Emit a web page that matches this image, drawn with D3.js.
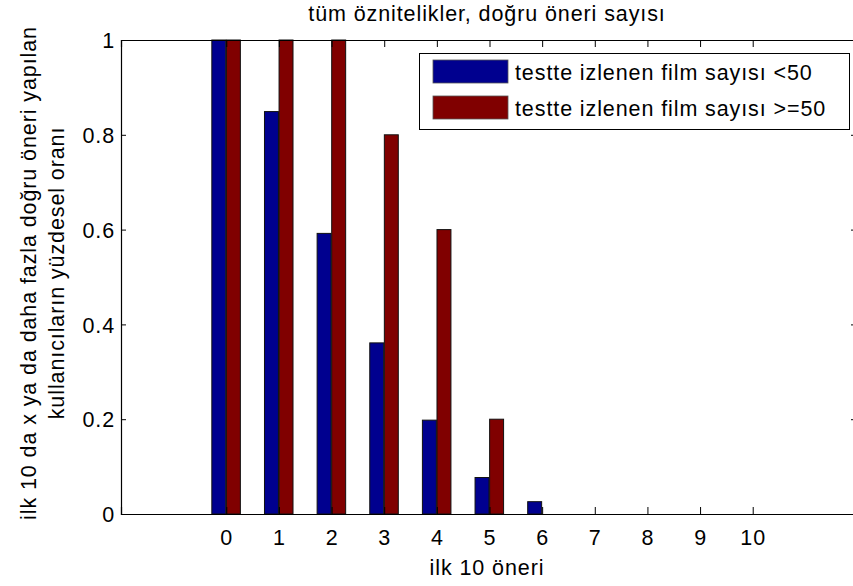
<!DOCTYPE html>
<html>
<head>
<meta charset="utf-8">
<script src="https://cdn.jsdelivr.net/npm/d3@7"></script>
<style>
  body { margin: 0; background: #fff; }
  text { font-family: "Liberation Sans", Arial, sans-serif; font-size: 21.5px; letter-spacing: 0.9px; fill: #000; }
</style>
</head>
<body>
<div id="chart"></div>
<script>
// data
const categories = [0, 1, 2, 3, 4, 5, 6, 7, 8, 9, 10];
const seriesNames = ["testte izlenen film sayısı <50", "testte izlenen film sayısı >=50"];
const under50 = [1, 0.849, 0.592, 0.361, 0.198, 0.077, 0.026, 0, 0, 0, 0];
const over50 = [1, 1, 1, 0.8, 0.6, 0.2, 0, 0, 0, 0, 0];
const yTicks = [0, 0.2, 0.4, 0.6, 0.8, 1];
const titleText = "tüm öznitelikler, doğru öneri sayısı";
const xLabel = "ilk 10 öneri";
const yLabelLines = ["ilk 10 da x ya da daha fazla doğru öneri yapılan", "kullanıcıların yüzdesel oranı"];

const colors = ["#00008f", "#800000"];
const width = 853, height = 586;
const plot = {left: 121, right: 858, top: 40, bottom: 514};
const fontSize = "21.5px", spacing = "0.9px";

const svg = d3.select("#chart").append("svg")
  .attr("width", width)
  .attr("height", height);

const x = d3.scaleLinear().domain([-2, 12]).range([plot.left, plot.right]);
const y = d3.scaleLinear().domain([0, 1]).range([plot.bottom, plot.top]);

// bar geometry in data units
const barW = 0.265;
const offsets = [-0.142, 0.135];
const series = [under50, over50];

series.forEach((vals, si) => {
  svg.append("g").selectAll("rect")
    .data(categories)
    .enter()
    .append("rect")
    .attr("x", (d, i) => x(d + offsets[si] - barW / 2))
    .attr("width", x(barW) - x(0))
    .attr("y", (d, i) => y(vals[i]))
    .attr("height", (d, i) => y(0) - y(vals[i]))
    .attr("fill", colors[si])
    .attr("stroke", "#111")
    .attr("stroke-width", 1);
});

// axes box
const tickLen = 7;
const bottomAxis = d3.axisBottom(x).tickValues(categories).tickSize(-tickLen).tickPadding(tickLen + 9);
const gx = svg.append("g").attr("transform", `translate(0,${plot.bottom})`).call(bottomAxis);
const topAxis = d3.axisTop(x).tickValues(categories).tickSize(-tickLen).tickFormat("");
const gxt = svg.append("g").attr("transform", `translate(0,${plot.top})`).call(topAxis);
const leftAxis = d3.axisLeft(y).tickValues(yTicks).tickSize(-5).tickPadding(6).tickFormat(d3.format("~g"));
const gy = svg.append("g").attr("transform", `translate(${plot.left},0)`).call(leftAxis);
const rightAxis = d3.axisRight(y).tickValues(yTicks).tickSize(-tickLen).tickFormat("");
const gyr = svg.append("g").attr("transform", `translate(${plot.right},0)`).call(rightAxis);

[gx, gxt, gy, gyr].forEach(g => {
  g.select(".domain").attr("stroke", "#000").attr("stroke-width", 1.2);
  g.selectAll(".tick line").attr("stroke", "#000").attr("stroke-width", 1);
  g.selectAll(".tick text")
    .style("font-family", "'Liberation Sans', Arial, sans-serif")
    .style("font-size", fontSize)
    .style("letter-spacing", spacing)
    .attr("fill", "#000");
});
gx.selectAll(".tick text").attr("dy", "0.71em");
gy.selectAll(".tick text").attr("dy", "0.36em");

// title and labels
svg.append("text")
  .attr("x", 487)
  .attr("y", 21)
  .attr("text-anchor", "middle")
  .text(titleText);

svg.append("text")
  .attr("x", 487)
  .attr("y", 575)
  .attr("text-anchor", "middle")
  .text(xLabel);

const yLabelX = [36, 64];
yLabelLines.forEach((line, i) => {
  svg.append("text")
    .attr("transform", `translate(${yLabelX[i]},${(plot.top + plot.bottom) / 2 - 4}) rotate(-90)`)
    .attr("text-anchor", "middle")
    .text(line);
});

// legend
const legend = svg.append("g");
legend.append("rect")
  .attr("x", 419.5).attr("y", 53.5)
  .attr("width", 430).attr("height", 76)
  .attr("fill", "#fff")
  .attr("stroke", "#000")
  .attr("stroke-width", 1);

seriesNames.forEach((name, i) => {
  const cy = 71.5 + i * 36;
  legend.append("rect")
    .attr("x", 433).attr("y", cy - 11.5)
    .attr("width", 75).attr("height", 23)
    .attr("fill", colors[i])
    .attr("stroke", "#555")
    .attr("stroke-width", 0.8);
  legend.append("text")
    .attr("x", 515)
    .attr("y", cy + 8)
    .text(name);
});
</script>
</body>
</html>
